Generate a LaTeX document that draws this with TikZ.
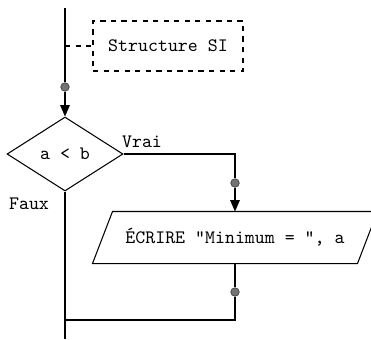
\documentclass[tikz,border=0pt]{standalone}
\usepackage{tikz}
\usetikzlibrary{arrows.meta, shapes.geometric}

\begin{document}
\begin{tikzpicture}[
  x=0.02cm, y=-0.02cm, line width=0.6pt,
  every node/.style={font=\ttfamily\fontsize{10.8}{12}\selectfont},
  dot/.style={circle, draw=black!75, fill=black!55, line width=0.4pt,
              minimum size=0.17cm, inner sep=0pt},
  note/.style={draw, dashed, minimum width=3.0cm, minimum height=1.0cm},
  test/.style={diamond, draw, minimum width=2.32cm, minimum height=1.48cm,
               inner sep=0pt},
  io/.style={minimum width=5.28cm, minimum height=1.02cm, inner sep=0pt},
  tip/.style={-{Triangle[width=5.5pt, length=6.5pt]}}
]
  \useasboundingbox (0,0) rectangle (371,339);

  \coordinate (top)  at (65,8);
  \coordinate (hook) at (65,46);
  \node[note]         (info) at (168,46) {Structure SI};
  \node[dot]          (d1)   at (65,87) {};
  \node[test]         (cond) at (65,154) {a < b};
  \node               (vrai) at (142,142) {Vrai};
  \node               (faux) at (29,204) {Faux};
  \node[dot]          (d2)   at (235,183) {};
  \node[io]           (out)  at (235,237.5) {ÉCRIRE "Minimum = ", a};
  \node[dot]          (d3)   at (235,292) {};
  \coordinate (join) at (65,320);
  \coordinate (bot)  at (65,339);

  \draw ([xshift=-0.2cm]out.south west) -- ([xshift=0.2cm]out.north west)
     -- ([xshift=0.2cm]out.north east) -- ([xshift=-0.2cm]out.south east)
     -- cycle;

  \draw (top) -- (d1);
  \draw[dashed] (hook) -- (info.west);
  \draw[tip] (d1) -- (cond.north);
  \draw (cond.east) -| (d2);
  \draw[tip] (d2) -- (out.north);
  \draw (out.south) -- (d3);
  \draw (d3) |- (join);
  \draw (cond.south) -- (bot);
\end{tikzpicture}
\end{document}
